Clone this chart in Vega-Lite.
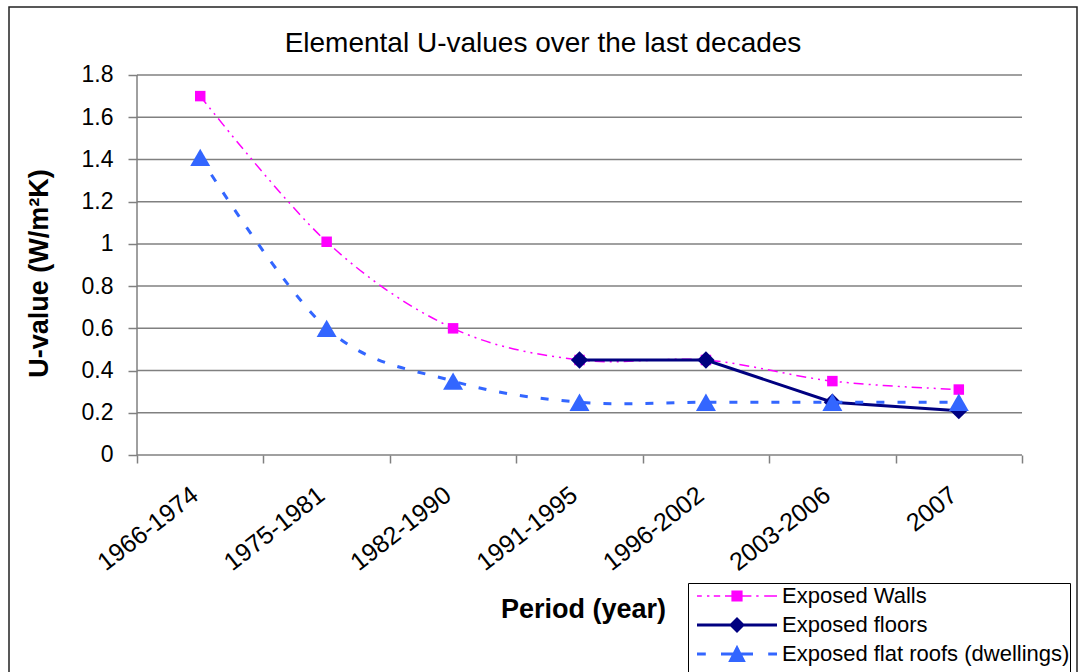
{
  "$schema": "https://vega.github.io/schema/vega-lite/v6.json",
  "width": 1068,
  "height": 670,
  "autosize": {"type": "none"},
  "padding": {"left": 9, "top": 7, "right": 3, "bottom": 0},
  "background": "white",
  "config": {
    "view": {"stroke": "#222222", "strokeWidth": 1.5, "fill": "white"},
    "font": "Liberation Sans"
  },
  "title": {
    "text": "Elemental U-values over the last decades",
    "font": "Liberation Sans",
    "fontSize": 28,
    "fontWeight": "normal",
    "color": "black",
    "anchor": "middle",
    "baseline": "alphabetic",
    "offset": 0,
    "dy": 73
  },
  "datasets": {
    "series": [
      {"period": "1966-1974", "series": "Exposed Walls", "value": 1.70},
      {"period": "1975-1981", "series": "Exposed Walls", "value": 1.01},
      {"period": "1982-1990", "series": "Exposed Walls", "value": 0.60},
      {"period": "1991-1995", "series": "Exposed Walls", "value": 0.45},
      {"period": "1996-2002", "series": "Exposed Walls", "value": 0.45},
      {"period": "2003-2006", "series": "Exposed Walls", "value": 0.35},
      {"period": "2007", "series": "Exposed Walls", "value": 0.31},
      {"period": "1991-1995", "series": "Exposed floors", "value": 0.45},
      {"period": "1996-2002", "series": "Exposed floors", "value": 0.45},
      {"period": "2003-2006", "series": "Exposed floors", "value": 0.25},
      {"period": "2007", "series": "Exposed floors", "value": 0.21},
      {"period": "1966-1974", "series": "Exposed flat roofs (dwellings)", "value": 1.41},
      {"period": "1975-1981", "series": "Exposed flat roofs (dwellings)", "value": 0.60},
      {"period": "1982-1990", "series": "Exposed flat roofs (dwellings)", "value": 0.35},
      {"period": "1991-1995", "series": "Exposed flat roofs (dwellings)", "value": 0.25},
      {"period": "1996-2002", "series": "Exposed flat roofs (dwellings)", "value": 0.25},
      {"period": "2003-2006", "series": "Exposed flat roofs (dwellings)", "value": 0.25},
      {"period": "2007", "series": "Exposed flat roofs (dwellings)", "value": 0.25}
    ],
    "grid": [
      {"v": 0}, {"v": 0.2}, {"v": 0.4}, {"v": 0.6}, {"v": 0.8},
      {"v": 1}, {"v": 1.2}, {"v": 1.4}, {"v": 1.6}, {"v": 1.8}
    ]
  },
  "layer": [
    {
      "data": {"name": "grid"},
      "mark": {"type": "rule", "stroke": "#808080", "strokeWidth": 1.5},
      "encoding": {
        "y": {
          "field": "v", "type": "quantitative", "title": "U-value (W/m²K)",
          "scale": {"domain": [-1.0516, 2.1221], "nice": false, "zero": false}
        },
        "x": {
          "datum": "1966-1974", "type": "nominal", "bandPosition": 0,
          "scale": {"type": "band", "domain": ["1966-1974", "1975-1981", "1982-1990", "1991-1995", "1996-2002", "2003-2006", "2007"], "paddingInner": 0, "paddingOuter": 0.7237, "align": 0.6995}
        },
        "x2": {"datum": "2007", "bandPosition": 1}
      }
    },
    {
      "data": {"values": [{}]},
      "mark": {"type": "rule", "stroke": "#808080", "strokeWidth": 1.5},
      "encoding": {
        "x": {"datum": "1966-1974", "type": "nominal", "bandPosition": 0},
        "y": {"datum": 0, "type": "quantitative"},
        "y2": {"datum": 1.8}
      }
    },
    {
      "data": {"name": "series"},
      "transform": [{"filter": "datum.series === 'Exposed Walls'"}],
      "mark": {"type": "line", "interpolate": "cardinal", "tension": 0, "stroke": "#FF00FF", "strokeWidth": 1.5, "strokeDash": [10, 5, 2, 5, 2, 5]},
      "encoding": {
        "x": {
          "field": "period", "type": "nominal", "title": "Period (year)",
          "axis": {
            "orient": "bottom",
            "offset": -222,
            "domain": false,
            "grid": false,
            "tickBand": "extent",
            "tickSize": 8,
            "tickColor": "#808080",
            "tickWidth": 1.5,
            "labelAngle": -38,
            "labelAlign": "right",
            "labelBaseline": "top",
            "labelOffset": -13,
            "labelFont": "Liberation Sans",
            "labelFontSize": 25,
            "labelColor": "black",
            "labelPadding": 19,
            "title": "Period (year)",
            "titleFont": "Liberation Sans",
            "titleFontSize": 27,
            "titleFontWeight": "bold",
            "titleColor": "black",
            "titleX": 574,
            "titleY": 162,
            "titleBaseline": "alphabetic"
          }
        },
        "y": {
          "field": "value", "type": "quantitative", "title": "U-value (W/m²K)",
          "axis": {
            "orient": "left",
            "offset": -128,
            "domain": false,
            "grid": false,
            "values": [0, 0.2, 0.4, 0.6, 0.8, 1, 1.2, 1.4, 1.6, 1.8],
            "format": "~g",
            "tickSize": 9,
            "tickColor": "#808080",
            "tickWidth": 1.5,
            "labelFont": "Liberation Sans",
            "labelFontSize": 23,
            "labelColor": "black",
            "labelPadding": 15,
            "title": "U-value (W/m²K)",
            "titleFont": "Liberation Sans",
            "titleFontSize": 27,
            "titleFontWeight": "bold",
            "titleColor": "black",
            "titleX": -84,
            "titleY": 266,
            "titleBaseline": "bottom",
            "titleAngle": 270
          }
        }
      }
    },
    {
      "data": {"name": "series"},
      "transform": [{"filter": "datum.series === 'Exposed Walls'"}],
      "mark": {"type": "point", "shape": "square", "filled": true, "fill": "#FF00FF", "size": 110, "opacity": 1, "strokeWidth": 0},
      "encoding": {
        "x": {"field": "period", "type": "nominal", "title": "Period (year)"},
        "y": {"field": "value", "type": "quantitative", "title": "U-value (W/m²K)"}
      }
    },
    {
      "data": {"name": "series"},
      "transform": [{"filter": "datum.series === 'Exposed floors'"}],
      "mark": {"type": "line", "stroke": "#000080", "strokeWidth": 3},
      "encoding": {
        "x": {"field": "period", "type": "nominal", "title": "Period (year)"},
        "y": {"field": "value", "type": "quantitative", "title": "U-value (W/m²K)"}
      }
    },
    {
      "data": {"name": "series"},
      "transform": [{"filter": "datum.series === 'Exposed floors'"}],
      "mark": {"type": "point", "shape": "diamond", "filled": true, "fill": "#000080", "size": 300, "opacity": 1, "strokeWidth": 0},
      "encoding": {
        "x": {"field": "period", "type": "nominal", "title": "Period (year)"},
        "y": {"field": "value", "type": "quantitative", "title": "U-value (W/m²K)"}
      }
    },
    {
      "data": {"name": "series"},
      "transform": [{"filter": "datum.series === 'Exposed flat roofs (dwellings)'"}],
      "mark": {"type": "line", "interpolate": "cardinal", "tension": 0, "stroke": "#3366FF", "strokeWidth": 3, "strokeDash": [8, 13]},
      "encoding": {
        "x": {"field": "period", "type": "nominal", "title": "Period (year)"},
        "y": {"field": "value", "type": "quantitative", "title": "U-value (W/m²K)"}
      }
    },
    {
      "data": {"name": "series"},
      "transform": [{"filter": "datum.series === 'Exposed flat roofs (dwellings)'"}],
      "mark": {"type": "point", "shape": "triangle-up", "filled": true, "fill": "#3366FF", "size": 400, "opacity": 1, "strokeWidth": 0},
      "encoding": {
        "x": {"field": "period", "type": "nominal", "title": "Period (year)"},
        "y": {"field": "value", "type": "quantitative", "title": "U-value (W/m²K)"}
      }
    },
    {
      "data": {"name": "series"},
      "mark": {"type": "point", "filled": true, "opacity": 0},
      "encoding": {
        "x": {"field": "period", "type": "nominal", "title": "Period (year)"},
        "y": {"field": "value", "type": "quantitative", "title": "U-value (W/m²K)"},
        "color": {
          "field": "series", "type": "nominal",
          "scale": {"domain": ["Exposed Walls", "Exposed floors", "Exposed flat roofs (dwellings)"], "range": ["#FF00FF", "#000080", "#3366FF"]},
          "legend": {
            "title": " ", "titleOrient": "bottom", "titleFontSize": 8, "titlePadding": 0,
            "orient": "none", "legendX": 679, "legendY": 576,
            "padding": 0, "strokeColor": "black", "fillColor": "white",
            "symbolSize": 6400, "clipHeight": 26, "rowPadding": 3,
            "symbolOffset": 9, "labelOffset": 5,
            "labelFont": "Liberation Sans", "labelFontSize": 22, "labelColor": "black", "labelLimit": 600,
            "symbolStrokeWidth": 0, "symbolOpacity": 1,
            "encode": {"symbols": {"update": {"opacity": {"value": 1}}}}
          }
        },
        "shape": {
          "field": "series", "type": "nominal",
          "scale": {
            "domain": ["Exposed Walls", "Exposed floors", "Exposed flat roofs (dwellings)"],
            "range": [
              "M-1,-0.02H-0.88V0.02H-1Z M-0.75,-0.02H-0.69V0.02H-0.75Z M-0.58,-0.02H-0.42V0.02H-0.58Z M-0.3,-0.02H0.36V0.02H-0.3Z M-0.14,-0.14H0.14V0.14H-0.14Z M0.48,-0.02H0.54V0.02H0.48Z M0.68,-0.02H1V0.02H0.68Z",
              "M-1,-0.04H1V0.04H-1Z M0,-0.2L0.2,0L0,0.2L-0.2,0Z",
              "M-1,-0.04H-0.78V0.04H-1Z M-0.4,-0.04H0.4V0.04H-0.4Z M0,-0.23L0.22,0.2H-0.22Z M0.78,-0.04H1V0.04H0.78Z"
            ]
          },
          "legend": {
            "title": " ", "titleOrient": "bottom", "titleFontSize": 8, "titlePadding": 0,
            "orient": "none", "legendX": 679, "legendY": 576,
            "padding": 0, "strokeColor": "black", "fillColor": "white",
            "symbolSize": 6400, "clipHeight": 26, "rowPadding": 3,
            "symbolOffset": 9, "labelOffset": 5,
            "labelFont": "Liberation Sans", "labelFontSize": 22, "labelColor": "black", "labelLimit": 600,
            "symbolStrokeWidth": 0, "symbolOpacity": 1,
            "encode": {"symbols": {"update": {"opacity": {"value": 1}}}}
          }
        }
      }
    }
  ]
}
